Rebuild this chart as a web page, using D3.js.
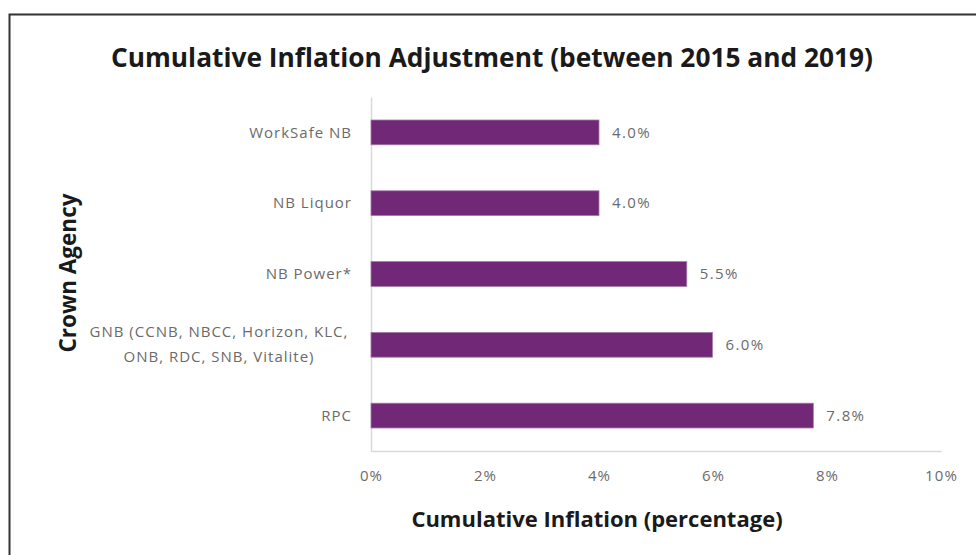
<!DOCTYPE html>
<html>
<head>
<meta charset="utf-8">
<script src="https://cdn.jsdelivr.net/npm/d3@7"></script>
<style>
  body { margin: 0; background: #fff; }
  text { font-family: "Open Sans", sans-serif; }
</style>
</head>
<body>
<div class="chart-holder"></div>
<script>
var agencies = ["WorkSafe NB", "NB Liquor", "NB Power*", "GNB (CCNB, NBCC, Horizon, KLC,|ONB, RDC, SNB, Vitalite)", "RPC"];
var inflation = [4.0, 4.0, 5.54, 5.99, 7.76];
var xTicks = [0, 2, 4, 6, 8, 10];

var data = agencies.map(function(a, i){ return {name: a, value: inflation[i]}; });

var margin = {top: 97, right: 35, bottom: 104, left: 371};
var width = 976 - margin.left - margin.right;
var height = 555 - margin.top - margin.bottom;

var svg = d3.select(".chart-holder")
      .append("svg")
      .attr("width", 976)
      .attr("height", 555);

// outer frame, runs off the right and bottom edges
svg.append("rect")
    .attr("x", 9.5).attr("y", 14.5)
    .attr("width", 1000).attr("height", 600)
    .attr("fill", "none")
    .attr("stroke", "#333")
    .attr("stroke-width", 2);

var scaleX = d3.scaleLinear().domain([0, 10]).range([0, 570]);
var scaleY = d3.scaleBand().domain(agencies).range([0, height]).paddingInner(0.65).paddingOuter(0.325);

var grp = svg.append("g").attr("transform", `translate(${margin.left}, ${margin.top})`);

/* x axis: labels only, plus light baseline */
var xAxis = grp.append("g")
    .attr("transform", `translate(0, ${height})`)
    .call(d3.axisBottom(scaleX).tickValues(xTicks).tickSize(0).tickPadding(19).tickFormat(function(d){ return d + "%"; }));
xAxis.select(".domain").attr("stroke", "#d9d9d9").attr("stroke-width", 1.5);
xAxis.selectAll("text").attr("fill", "#6b6b6b")
    .style("font-size", "15px").style("letter-spacing", "1.1px").style("font-family", "'Open Sans', sans-serif");

/* y axis line */
var yAxis = grp.append("g")
    .call(d3.axisLeft(scaleY).tickSize(0).tickFormat(""));
yAxis.select(".domain").attr("stroke", "#d9d9d9").attr("stroke-width", 1.5);

/* category labels, multi-line ones centred on themselves */
grp.append("g").selectAll("text")
    .data(agencies)
    .enter().append("text")
    .attr("fill", "#6b6b6b")
    .style("font-size", "15px")
    .style("letter-spacing", "1px")
    .each(function(d){
      var lines = d.split("|");
      var t = d3.select(this);
      var cy = scaleY(d) + scaleY.bandwidth() / 2;
      if (lines.length == 1) {
        t.attr("x", -19).attr("y", cy).attr("dy", "0.35em").attr("text-anchor", "end").text(d);
      } else {
        lines.forEach(function(l, i){
          t.append("tspan")
            .attr("x", -152)
            .attr("y", cy - 13 + i * 25)
            .attr("dy", "0.35em")
            .attr("text-anchor", "middle")
            .text(l);
        });
      }
    });

/* bars */
grp.selectAll("rect.bar")
    .data(data)
    .enter().append("rect")
    .attr("class", "bar")
    .attr("x", scaleX(0))
    .attr("y", function(d){ return scaleY(d.name); })
    .attr("width", function(d){ return scaleX(d.value); })
    .attr("height", scaleY.bandwidth())
    .attr("fill", "#702877")
    .attr("stroke", "#a27aa6")
    .attr("stroke-width", 0.8);

/* value labels */
grp.selectAll("text.val")
    .data(data)
    .enter().append("text")
    .attr("class", "val")
    .attr("x", function(d){ return scaleX(d.value) + 13; })
    .attr("y", function(d){ return scaleY(d.name) + scaleY.bandwidth() / 2; })
    .attr("dy", "0.35em")
    .attr("fill", "#6b6b6b")
    .style("font-size", "15px")
    .style("letter-spacing", "1.4px")
    .text(function(d){ return d.value.toFixed(1) + "%"; });

/* title */
svg.append("text")
    .attr("x", 492).attr("y", 67)
    .attr("text-anchor", "middle")
    .attr("fill", "#1a1a1a")
    .style("font-size", "26.3px").style("font-weight", "bold")
    .text("Cumulative Inflation Adjustment (between 2015 and 2019)");

/* Y-axis label */
svg.append("text")
    .attr("transform", "rotate(270)")
    .attr("x", -273)
    .attr("y", 76)
    .attr("text-anchor", "middle")
    .attr("fill", "#1a1a1a")
    .style("font-size", "22.5px").style("font-weight", "bold")
    .text("Crown Agency");

/* X-axis label */
svg.append("text")
    .attr("x", 597)
    .attr("y", 527)
    .attr("text-anchor", "middle")
    .attr("fill", "#1a1a1a")
    .style("font-size", "22px").style("font-weight", "bold")
    .text("Cumulative Inflation (percentage)");
</script>
</body>
</html>
